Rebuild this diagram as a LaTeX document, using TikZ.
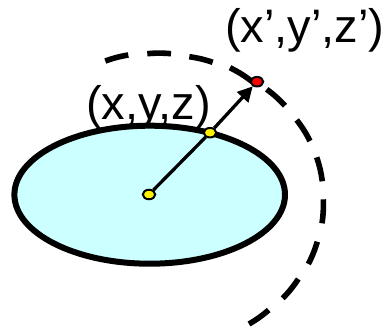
\documentclass[tikz,border=0pt]{standalone}
\usepackage{fontspec}
\setmainfont{Liberation Sans}
\usetikzlibrary{shapes.geometric,arrows.meta}
\definecolor{disk}{RGB}{204,255,255}
\tikzset{
  dot/.style={ellipse,draw=black,line width=2pt,minimum width=12.5pt,minimum height=9.5pt,inner sep=0pt},
  lab/.style={anchor=base west,inner sep=0pt,font=\fontsize{47}{47}\selectfont},
  dashseg/.style={line width=5.6pt,line cap=butt},
  ray/.style={line width=3.3pt}
}
\begin{document}
\begin{tikzpicture}[x=1pt,y=-1pt]
\useasboundingbox (0,0) rectangle (385,329);
\node[lab] (inner) at (86,119) {(x,y,z)};
\node[lab] (outer) at (225,42.7) {(x’,y’,z’)};
\draw[line width=6pt,fill=disk] (149.7,194.7) ellipse [x radius=135.3,y radius=69];
\foreach \ax/\ay/\bx/\by in {
  105.3/61/128.3/55,
  147.3/53.7/171/53.7,
  189.3/56.7/212.7/62.3,
  230/67.7/252.3/81.7,
  266.7/89.3/285/105.7,
  296.7/120/310/141,
  316.7/157.3/322.3/181.3,
  323.3/199.3/322/223.3,
  317.3/241.7/308.3/264,
  298.3/279/282.7/298.3,
  268.7/310/249/324}
  \draw[dashseg] (\ax,\ay) to[bend left=5] (\bx,\by);
\node[dot,fill=yellow] (center) at (149,194.5) {};
\node[dot,fill=yellow] (surface) at (210,132.7) {};
\node[dot,fill=red] (target) at (257,81.7) {};
\draw[ray] (center) -- (surface);
\draw[ray,-{Triangle[length=15pt,width=15pt]}] (surface) -- (target);
\end{tikzpicture}
\end{document}
